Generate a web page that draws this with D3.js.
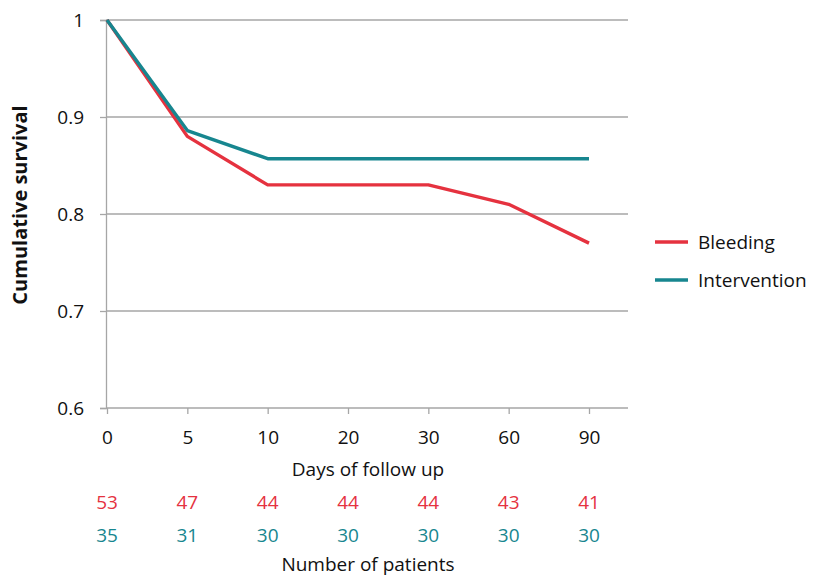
<!DOCTYPE html>
<html><head><meta charset="utf-8">
<script src="https://cdn.jsdelivr.net/npm/d3@7"></script>
<style>body{margin:0;background:#fff;} text{font-family:"Open Sans", Lato, sans-serif;}</style>
</head><body>
<svg id="c" width="814" height="577"></svg>
<script>
const days = ["0","5","10","20","30","60","90"];
const bleeding = [1, 0.88, 0.83, 0.83, 0.83, 0.81, 0.77];
const intervention = [1, 0.886, 0.857, 0.857, 0.857, 0.857, 0.857];
const bleedingN = [53, 47, 44, 44, 44, 43, 41];
const interventionN = [35, 31, 30, 30, 30, 30, 30];
const yTicks = [0.6, 0.7, 0.8, 0.9, 1];
const seriesNames = ["Bleeding", "Intervention"];
const colors = ["#e5323f", "#17868f"];

const FS = 19;
const svg = d3.select("#c");
const x = d3.scalePoint().domain(days).range([107, 589]);
const y = d3.scaleLinear().domain([0.6, 1]).range([408, 20]);
const plotRight = 628;

// gridlines
svg.append("g").selectAll("line").data(yTicks.slice(1)).join("line")
  .attr("x1", 106).attr("x2", plotRight)
  .attr("y1", d => y(d)).attr("y2", d => y(d))
  .attr("stroke", "#a6a6a6").attr("stroke-width", 1.3);

// y axis
const yAxis = svg.append("g").attr("transform", "translate(106,0)")
  .call(d3.axisLeft(y).tickValues(yTicks).tickSize(6).tickPadding(16).tickFormat(d => d === 1 ? "1" : d3.format(".1f")(d)));
yAxis.select(".domain").attr("stroke", "#a6a6a6").attr("stroke-width", 1.3);
yAxis.selectAll(".tick line").attr("stroke", "#a6a6a6").attr("stroke-width", 1.3);
yAxis.selectAll("text").attr("font-size", FS).attr("fill", "#111").style("font-family", "Open Sans");

// x axis baseline
svg.append("line").attr("x1", 106).attr("x2", plotRight).attr("y1", 408).attr("y2", 408)
  .attr("stroke", "#a6a6a6").attr("stroke-width", 1.3);
const xAxis = svg.append("g").attr("transform", "translate(0,408)")
  .call(d3.axisBottom(x).tickSize(6).tickPadding(17));
xAxis.select(".domain").remove();
xAxis.selectAll(".tick line").attr("stroke", "#a6a6a6").attr("stroke-width", 1.3);
xAxis.selectAll("text").attr("font-size", FS).attr("fill", "#111").style("font-family", "Open Sans");

// lines
const line = d3.line().x((d, i) => x(days[i])).y(d => y(d));
[bleeding, intervention].forEach((s, k) => {
  svg.append("path").datum(s).attr("d", line).attr("fill", "none")
    .attr("stroke", colors[k]).attr("stroke-width", 3.4).attr("stroke-linejoin", "round");
});

// axis titles
svg.append("text").attr("transform", "translate(20,205) rotate(-90)").attr("dy", "0.35em")
  .attr("text-anchor", "middle").attr("font-size", 20).attr("font-weight", "bold").attr("fill", "#111")
  .text("Cumulative survival");
svg.append("text").attr("x", 368).attr("y", 469).attr("dy", "0.35em")
  .attr("text-anchor", "middle").attr("font-size", FS).attr("fill", "#111").text("Days of follow up");

// numbers at risk
[bleedingN, interventionN].forEach((arr, k) => {
  svg.append("g").selectAll("text").data(arr).join("text")
    .attr("x", (d, i) => x(days[i])).attr("y", k === 0 ? 502 : 535).attr("dy", "0.35em")
    .attr("text-anchor", "middle").attr("font-size", FS).attr("fill", colors[k]).text(d => d);
});
svg.append("text").attr("x", 368).attr("y", 564).attr("dy", "0.35em")
  .attr("text-anchor", "middle").attr("font-size", FS).attr("fill", "#111").text("Number of patients");

// legend
const lg = svg.append("g");
seriesNames.forEach((n, k) => {
  const yy = 242 + k * 38;
  lg.append("line").attr("x1", 655).attr("x2", 688).attr("y1", yy).attr("y2", yy)
    .attr("stroke", colors[k]).attr("stroke-width", 3.4);
  lg.append("text").attr("x", 698).attr("y", yy).attr("dy", "0.35em")
    .attr("font-size", FS).attr("fill", "#111").text(n);
});
</script>
</body></html>
